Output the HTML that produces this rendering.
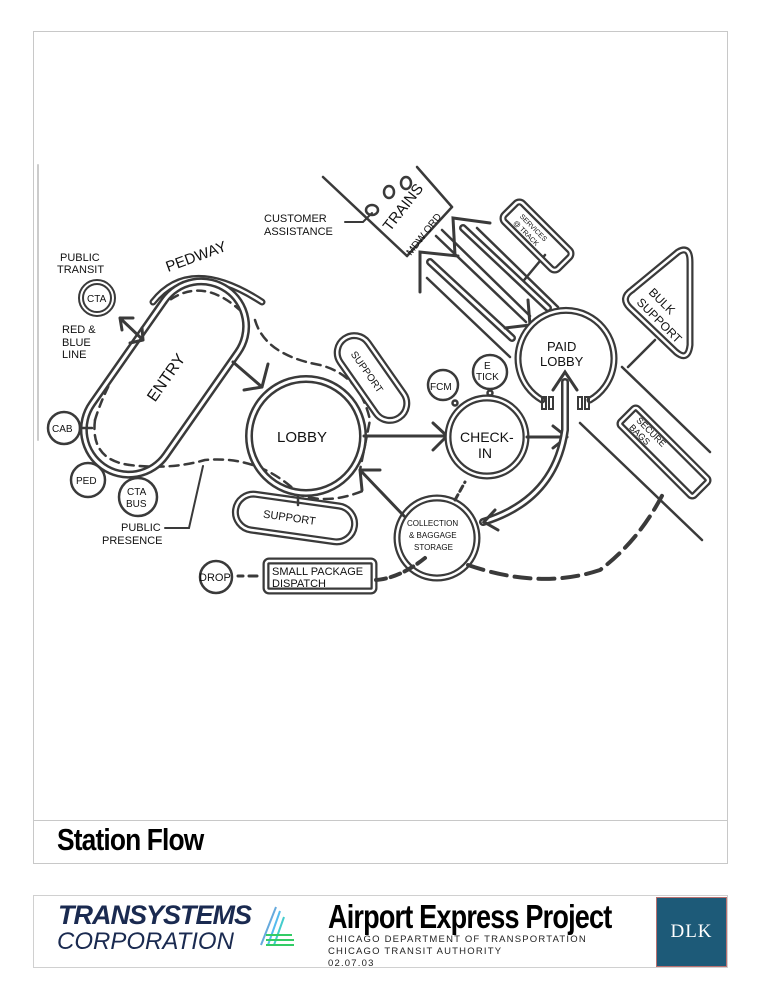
<!DOCTYPE html>
<html><head><style>
html,body{margin:0;padding:0;background:#fff;}
body{width:773px;height:1000px;position:relative;overflow:hidden;font-family:"Liberation Sans",sans-serif;}
.frame{position:absolute;left:33px;top:31px;width:695px;height:833px;border:1px solid #c8c8c8;box-sizing:border-box;}
.tline{position:absolute;left:33px;top:820px;width:695px;border-top:1px solid #c8c8c8;}
.title{position:absolute;left:57px;top:822px;font-family:"Liberation Sans Narrow","Liberation Sans",sans-serif;font-weight:bold;font-size:31px;letter-spacing:-1px;transform:scaleX(0.85);transform-origin:left;color:#000;}
.foot{position:absolute;left:33px;top:895px;width:695px;height:73px;border:1px solid #d0d0d0;box-sizing:border-box;}
.dlk{position:absolute;left:656px;top:897px;width:71px;height:70px;background:#1d5a78;border:1px solid #b87070;box-sizing:border-box;color:#fff;font-family:"Liberation Serif",serif;font-size:19px;text-align:center;line-height:68px;letter-spacing:1px;}
.aep{position:absolute;left:328px;top:898px;font-family:"Liberation Sans Narrow","Liberation Sans",sans-serif;font-weight:bold;font-size:33px;transform:scaleX(0.82);transform-origin:left;letter-spacing:-1px;}
.sub{position:absolute;left:328px;font-size:9.5px;letter-spacing:1.2px;font-variant:small-caps;color:#222;}
.ts{position:absolute;left:58px;top:900px;font-style:italic;font-weight:bold;font-size:27px;color:#1a2a50;letter-spacing:-1px;}
.corp{position:absolute;left:57px;top:928px;font-style:italic;font-size:24px;color:#1a2a50;letter-spacing:0px;}
</style></head><body>
<div class="frame"></div>
<div class="tline"></div>
<div class="title">Station Flow</div>
<div class="foot"></div>
<div class="ts">TRANSYSTEMS</div>
<div class="corp">CORPORATION</div>
<svg style="position:absolute;left:256px;top:905px" width="40" height="45"><g stroke-width="2"><line x1="20" y1="2" x2="5" y2="40" stroke="#6ad"/><line x1="24" y1="6" x2="12" y2="40" stroke="#5be"/><line x1="28" y1="12" x2="18" y2="40" stroke="#4cc"/><line x1="10" y1="30" x2="36" y2="30" stroke="#3c6"/><line x1="10" y1="35" x2="38" y2="35" stroke="#3c6"/><line x1="10" y1="40" x2="38" y2="40" stroke="#3c6"/></g></svg>
<div class="aep">Airport Express Project</div>
<div class="sub" style="top:934px">CHICAGO DEPARTMENT OF TRANSPORTATION</div>
<div class="sub" style="top:946px">CHICAGO TRANSIT AUTHORITY</div>
<div class="sub" style="top:958px">02.07.03</div>
<div class="dlk">DLK</div>

<svg style="position:absolute;left:0;top:0" width="773" height="820" font-family="Liberation Sans, sans-serif" fill="none" stroke="#3a3a3a" stroke-width="2.5" stroke-linecap="round">
<line x1="38" y1="165" x2="38" y2="440" stroke="#ccc" stroke-width="2"/>

<!-- track lines -->
<g stroke-width="2.5">
<line x1="323" y1="177" x2="407" y2="256"/>
<line x1="407" y1="256" x2="452" y2="207"/>
<line x1="417" y1="167" x2="452" y2="207"/>
<line x1="622" y1="367" x2="710" y2="452"/>
<line x1="580" y1="423" x2="702" y2="540"/>
<line x1="628" y1="367" x2="655" y2="340"/>
<line x1="477" y1="228" x2="558" y2="307"/>
<line x1="427" y1="278" x2="510" y2="357"/>
<line x1="545" y1="255" x2="520" y2="285"/>
</g>
<!-- arrow A: up-left to trains -->
<path d="M512 338 L430 262" stroke="#3a3a3a" stroke-width="8"/>
<path d="M512 338 L430 262" stroke="#fff" stroke-width="3"/>
<path d="M420 292 L420 252 L458 256" stroke-width="3"/>
<!-- arrow B -->
<path d="M548 308 L463 228" stroke="#3a3a3a" stroke-width="8"/>
<path d="M548 308 L463 228" stroke="#fff" stroke-width="3"/>
<path d="M455 255 L453 218 L490 223" stroke-width="3"/>
<!-- arrow C: down to paid lobby -->
<path d="M436 236 L526 322" stroke-width="2.5"/>
<path d="M442 230 L530 316" stroke-width="2.5"/>
<path d="M528 300 L530 325 L505 328" stroke-width="3"/>

<!-- trains circles -->
<ellipse cx="372" cy="210" rx="6" ry="5" stroke-width="2.5"/>
<ellipse cx="389" cy="192" rx="5" ry="6" stroke-width="2.5"/>
<ellipse cx="406" cy="183" rx="5" ry="6" stroke-width="2.5"/>
<path d="M345 222 L363 222 L372 213" stroke-width="2"/>
<text transform="translate(390,232) rotate(-52)" font-size="15" fill="#111" stroke="none">TRAINS</text>
<text transform="translate(411,256) rotate(-52)" font-size="10" fill="#111" stroke="none">MDW ORD</text>
<text x="264" y="222" font-size="11" fill="#111" stroke="none">CUSTOMER</text>
<text x="264" y="235" font-size="11" fill="#111" stroke="none">ASSISTANCE</text>

<!-- services box -->
<g transform="translate(537,236) rotate(45)">
<rect x="-38" y="-13" width="76" height="26" rx="5" stroke="#3a3a3a" stroke-width="7"/>
<rect x="-38" y="-13" width="76" height="26" rx="5" stroke="#fff" stroke-width="2.5"/>
<text x="-26" y="-1" font-size="7" fill="#111" stroke="none">SERVICES</text>
<text x="-26" y="8" font-size="7" fill="#111" stroke="none">@ TRACK</text>
</g>

<!-- bulk support triangle -->
<path d="M678 252 Q690 245 690 262 L690 345 Q688 362 676 352 L630 308 Q620 298 632 290 Z" stroke="#3a3a3a" stroke-width="7" stroke-linejoin="round"/>
<path d="M678 252 Q690 245 690 262 L690 345 Q688 362 676 352 L630 308 Q620 298 632 290 Z" stroke="#fff" stroke-width="2.5" stroke-linejoin="round"/>
<text transform="translate(648,293) rotate(45)" font-size="12" fill="#111" stroke="none">BULK</text>
<text transform="translate(636,303) rotate(45)" font-size="12" fill="#111" stroke="none">SUPPORT</text>

<!-- secure bags -->
<g transform="translate(664,452) rotate(45)">
<rect x="-52" y="-12" width="104" height="24" rx="3" stroke="#3a3a3a" stroke-width="7"/>
<rect x="-52" y="-12" width="104" height="24" rx="3" stroke="#fff" stroke-width="2.5"/>
<text x="-42" y="-2" font-size="9" fill="#111" stroke="none">SECURE</text>
<text x="-42" y="8" font-size="9" fill="#111" stroke="none">BAGS</text>
</g>

<!-- pedway outer arc -->
<path d="M153 302 Q190 255 262 302" stroke="#3a3a3a" stroke-width="7"/>
<path d="M153 302 Q190 255 262 302" stroke="#fff" stroke-width="2.5"/>
<text font-size="15" fill="#111" stroke="none" transform="translate(168,272) rotate(-20)">PEDWAY</text>
<path d="M160 308 Q200 270 245 315 M95 420 Q110 370 160 308" stroke-width="2.5" stroke-dasharray="8,6"/>
<path d="M95 420 Q90 460 130 465 Q170 470 205 460 Q260 455 300 495 Q330 505 365 490" stroke-width="2.5" stroke-dasharray="9,6"/>
<path d="M255 320 Q265 355 320 365 Q360 375 370 420 L360 470" stroke-width="2.5" stroke-dasharray="9,6"/>

<!-- entry -->
<g transform="translate(165,378) rotate(-55)">
<rect x="-108" y="-45" width="216" height="90" rx="45" stroke="#3a3a3a" stroke-width="8"/>
<rect x="-108" y="-45" width="216" height="90" rx="45" stroke="#fff" stroke-width="3"/>
<text x="-26" y="6" font-size="16" fill="#111" stroke="none">ENTRY</text>
</g>

<!-- support top -->
<g transform="translate(372,378) rotate(55)">
<rect x="-48" y="-17" width="96" height="34" rx="17" stroke="#3a3a3a" stroke-width="7"/>
<rect x="-48" y="-17" width="96" height="34" rx="17" stroke="#fff" stroke-width="2.5"/>
<text x="-32" y="4" font-size="10" fill="#111" stroke="none">SUPPORT</text>
</g>
<g transform="translate(295,518) rotate(8)">
<rect x="-60" y="-18" width="120" height="36" rx="18" stroke="#3a3a3a" stroke-width="7"/>
<rect x="-60" y="-18" width="120" height="36" rx="18" stroke="#fff" stroke-width="2.5"/>
<text x="-32" y="4" font-size="11" fill="#111" stroke="none">SUPPORT</text>
</g>
<line x1="298" y1="493" x2="298" y2="505"/>

<!-- lobby -->
<circle cx="306" cy="436" r="57" stroke="#3a3a3a" stroke-width="8"/>
<circle cx="306" cy="436" r="57" stroke="#fff" stroke-width="3"/>
<text x="277" y="442" font-size="15" fill="#111" stroke="none">LOBBY</text>
<path d="M233 362 L262 387 M262 387 L268 364 M262 387 L244 390" stroke-width="3"/>

<path d="M364 436 L447 436 M447 436 L433 423 M447 436 L433 450" stroke-width="3"/>
<circle cx="487" cy="437" r="39" stroke="#3a3a3a" stroke-width="7"/>
<circle cx="487" cy="437" r="39" stroke="#fff" stroke-width="2.5"/>
<text x="460" y="442" font-size="14" fill="#111" stroke="none">CHECK-</text>
<text x="478" y="458" font-size="14" fill="#111" stroke="none">IN</text>
<path d="M527 437 L567 437 M567 437 L553 426 M567 437 L553 448" stroke-width="3"/>
<circle cx="443" cy="385" r="15" stroke-width="2.5"/>
<text x="430" y="390" font-size="10" fill="#111" stroke="none">FCM</text>
<circle cx="455" cy="403" r="2.5"/>
<circle cx="490" cy="372" r="17" stroke-width="2.5"/>
<text x="484" y="369" font-size="10" fill="#111" stroke="none">E</text>
<text x="476" y="380" font-size="10" fill="#111" stroke="none">TICK</text>
<circle cx="490" cy="393" r="2.5"/>

<!-- paid lobby -->
<path d="M542 400 A48 48 0 1 1 590 400" stroke="#3a3a3a" stroke-width="7"/>
<path d="M542 400 A48 48 0 1 1 590 400" stroke="#fff" stroke-width="2.5"/>
<text x="547" y="351" font-size="13" fill="#111" stroke="none">PAID</text>
<text x="540" y="366" font-size="13" fill="#111" stroke="none">LOBBY</text>
<rect x="542" y="397" width="4" height="12" stroke-width="2"/><rect x="549" y="397" width="4" height="12" stroke-width="2"/>
<rect x="578" y="397" width="4" height="12" stroke-width="2"/><rect x="585" y="397" width="4" height="12" stroke-width="2"/>
<path d="M483 522 Q555 500 565 430 L565 382" stroke="#3a3a3a" stroke-width="8"/>
<path d="M483 522 Q555 500 565 430 L565 382" stroke="#fff" stroke-width="3"/>
<path d="M553 390 L565 372 L577 390" stroke-width="3"/>
<path d="M495 510 L484 522 L498 530" stroke-width="3"/>

<!-- collection -->
<circle cx="437" cy="538" r="40" stroke="#3a3a3a" stroke-width="7"/>
<circle cx="437" cy="538" r="40" stroke="#fff" stroke-width="2.5"/>
<text x="407" y="526" font-size="8" fill="#111" stroke="none">COLLECTION</text>
<text x="409" y="538" font-size="8" fill="#111" stroke="none">&amp; BAGGAGE</text>
<text x="414" y="550" font-size="8" fill="#111" stroke="none">STORAGE</text>
<path d="M404 516 L360 470 M360 470 L362 490 M360 470 L380 470" stroke="#3a3a3a" stroke-width="3"/>
<path d="M455 500 L465 482" stroke-dasharray="6,4" stroke-width="3"/>
<path d="M468 565 Q540 590 600 570 Q640 540 665 490" stroke-width="4" stroke-dasharray="16,8"/>
<rect x="266" y="561" width="108" height="30" rx="3" stroke="#3a3a3a" stroke-width="7"/>
<rect x="266" y="561" width="108" height="30" rx="3" stroke="#fff" stroke-width="2.5"/>
<text x="272" y="575" font-size="11" fill="#111" stroke="none">SMALL PACKAGE</text>
<text x="272" y="587" font-size="11" fill="#111" stroke="none">DISPATCH</text>
<path d="M376 580 Q400 578 425 558" stroke-width="4" stroke-dasharray="10,5"/>
<circle cx="216" cy="577" r="16" stroke-width="2.5"/>
<text x="199" y="581" font-size="11" fill="#111" stroke="none">DROP</text>
<path d="M238 576 L243 576 M249 576 L257 576" stroke-width="3"/>

<!-- CTA -->
<circle cx="97" cy="298" r="16" stroke="#3a3a3a" stroke-width="6"/>
<circle cx="97" cy="298" r="16" stroke="#fff" stroke-width="2"/>
<text x="87" y="302" font-size="10" fill="#111" stroke="none">CTA</text>
<path d="M120 318 L143 340 M120 318 L122 330 M120 318 L133 318 M143 340 L130 343 M143 340 L142 328" stroke-width="3"/>
<text x="60" y="261" font-size="11" fill="#111" stroke="none">PUBLIC</text>
<text x="57" y="273" font-size="11" fill="#111" stroke="none">TRANSIT</text>
<text x="62" y="333" font-size="11" fill="#111" stroke="none">RED &amp;</text>
<text x="62" y="346" font-size="11" fill="#111" stroke="none">BLUE</text>
<text x="62" y="358" font-size="11" fill="#111" stroke="none">LINE</text>
<circle cx="64" cy="428" r="16" stroke-width="2.5"/>
<text x="52" y="432" font-size="10" fill="#111" stroke="none">CAB</text>
<line x1="80" y1="428" x2="92" y2="428"/>
<circle cx="88" cy="480" r="17" stroke-width="2.5"/>
<text x="76" y="484" font-size="10" fill="#111" stroke="none">PED</text>
<circle cx="138" cy="497" r="19" stroke-width="2.5"/>
<text x="127" y="495" font-size="10" fill="#111" stroke="none">CTA</text>
<text x="126" y="507" font-size="10" fill="#111" stroke="none">BUS</text>
<text x="121" y="531" font-size="11" fill="#111" stroke="none">PUBLIC</text>
<text x="102" y="544" font-size="11" fill="#111" stroke="none">PRESENCE</text>
<path d="M165 528 L189 528 L203 466" stroke-width="2"/>
</svg>
</body></html>
